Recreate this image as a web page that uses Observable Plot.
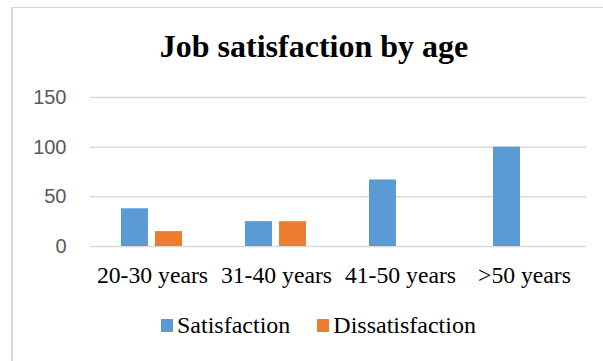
<!DOCTYPE html>
<html>
<head>
<meta charset="utf-8">
<script src="https://cdn.jsdelivr.net/npm/d3@7"></script>
<script src="https://cdn.jsdelivr.net/npm/@observablehq/plot@0.6"></script>
<style>
  html, body { margin: 0; padding: 0; background: #fff; }
  body { width: 603px; height: 361px; position: relative; overflow: hidden; }
  #frame {
    position: absolute; left: 11px; top: 7px; width: 640px; height: 400px;
    border-left: 2px solid #d9d9d9; border-top: 1px solid #d9d9d9; box-sizing: border-box;
  }
  #title {
    position: absolute; left: 0; top: 30px; width: 628px; text-align: center;
    font: bold 32px/32px "Liberation Serif", "Times New Roman", serif; color: #000;
  }
  #chart { position: absolute; left: 0; top: 80px; }
  #chart g[aria-label^="y-axis"] text {
    font-family: "Liberation Sans", Arial, sans-serif; font-size: 20px; fill: #595959;
  }
  #chart g[aria-label^="fx-axis"] text {
    font-family: "Liberation Serif", "Times New Roman", serif; font-size: 23.7px; fill: #000;
  }
  #legend {
    position: absolute; left: 161px; top: 314px; white-space: nowrap;
    font: 24px/23px "Liberation Serif", "Times New Roman", serif; color: #000;
  }
  #legend .item { display: inline-block; margin-right: 27px; }
  #legend .sw { display: inline-block; width: 12px; height: 13px; margin-right: 4px; vertical-align: 1px; }
</style>
</head>
<body>
<div id="frame"></div>
<div id="title">Job satisfaction by age</div>
<div id="chart"></div>
<div id="legend"></div>
<script>
// Age groups and the share reporting each response
const ageGroups = ["20-30 years", "31-40 years", "41-50 years", ">50 years"];
const seriesNames = ["Satisfaction", "Dissatisfaction"];
const satisfaction = [38, 25, 67, 100];
const dissatisfaction = [15, 25, 0, 0];
const seriesColors = ["#5b9bd5", "#ed7d31"];
const yTicks = [0, 50, 100, 150];

const rows = [];
ageGroups.forEach((age, i) => {
  rows.push({age, series: seriesNames[0], value: satisfaction[i]});
  rows.push({age, series: seriesNames[1], value: dissatisfaction[i]});
});

const chart = Plot.plot({
  width: 603,
  height: 211,
  marginLeft: 88,
  marginRight: 16,
  marginTop: 17,
  marginBottom: 45,
  style: {fontFamily: "Liberation Serif, serif", fontSize: "23.7px", background: "transparent", overflow: "visible"},
  fx: {domain: ageGroups, padding: 0, label: null, tickSize: 0, tickPadding: 20},
  x: {domain: seriesNames, paddingInner: 0.2, paddingOuter: 0.882, axis: null},
  y: {domain: [0, 150], ticks: yTicks, tickSize: 0, tickPadding: 24, label: null},
  color: {domain: seriesNames, range: seriesColors},
  marks: [
    Plot.ruleY(yTicks, {stroke: "#d9d9d9", strokeWidth: 1.5}),
    Plot.barY(rows, {fx: "age", x: "series", y: "value", fill: "series"})
  ]
});
document.getElementById("chart").appendChild(chart);

// Legend
const legend = document.getElementById("legend");
seriesNames.forEach((name, i) => {
  const item = document.createElement("span");
  item.className = "item";
  const sw = document.createElement("span");
  sw.className = "sw";
  sw.style.background = seriesColors[i];
  item.appendChild(sw);
  item.appendChild(document.createTextNode(name));
  legend.appendChild(item);
});
</script>
</body>
</html>
